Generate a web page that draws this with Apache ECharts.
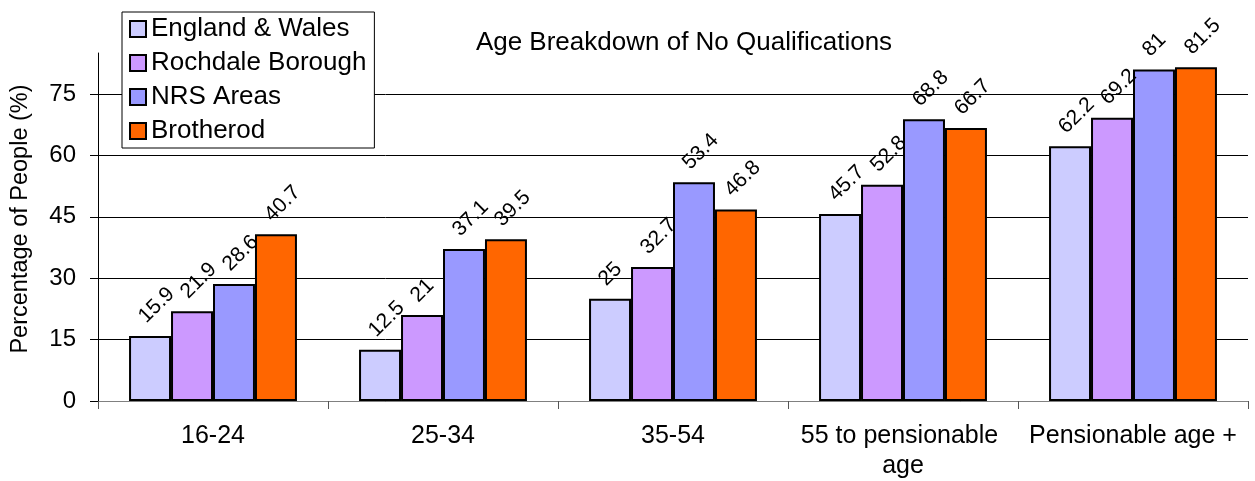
<!DOCTYPE html>
<html>
<head>
<meta charset="utf-8">
<title>Age Breakdown of No Qualifications</title>
<script src="https://cdn.jsdelivr.net/npm/echarts@6/dist/echarts.min.js"></script>
<style>
  html, body { margin: 0; padding: 0; background: #fff; }
  #chart { width: 1255px; height: 481px; }
</style>
</head>
<body>
<div id="chart"></div>
<script>
// data
const categories = ['16-24', '25-34', '35-54', '55 to pensionable age', 'Pensionable age +'];
const seriesNames = ['England & Wales', 'Rochdale Borough', 'NRS Areas', 'Brotherod'];
const englandWales = [15.9, 12.5, 25, 45.7, 62.2];
const rochdale = [21.9, 21, 32.7, 52.8, 69.2];
const nrsAreas = [28.6, 37.1, 53.4, 68.8, 81];
const brotherod = [40.7, 39.5, 46.8, 66.7, 81.5];
const yTicks = [0, 15, 30, 45, 60, 75];

const colors = ['#CCCCFF', '#CC99FF', '#9999FF', '#FF6600'];
const font = '"Liberation Sans", Arial, sans-serif';

// 1. init
const myChart = echarts.init(document.getElementById('chart'));

// 2. build series from the arrays
const values = [englandWales, rochdale, nrsAreas, brotherod];
const series = seriesNames.map((name, i) => ({
    name: name,
    type: 'bar',
    data: values[i],
    barGap: '0%',
    barCategoryGap: '27%',
    itemStyle: { color: colors[i], borderColor: '#000', borderWidth: 2 },
    label: {
        show: true,
        position: 'top',
        distance: 24,
        offset: [-11, 0],
        rotate: 45,
        align: 'left',
        verticalAlign: 'middle',
        color: '#000',
        fontSize: 21,
        fontFamily: font
    }
}));

// 3. options
const option = {
    animation: false,
    textStyle: { fontFamily: font },
    title: {
        text: 'Age Breakdown of No Qualifications',
        left: 684,
        top: 30,
        padding: 0,
        textAlign: 'center',
        textStyle: { fontSize: 26, fontWeight: 'normal', color: '#000', fontFamily: font }
    },
    legend: {
        orient: 'vertical',
        left: 122,
        top: 12,
        padding: [4, 8, 4, 7],
        itemGap: 8,
        itemWidth: 16,
        itemHeight: 16,
        icon: 'rect',
        backgroundColor: '#fff',
        borderColor: '#000',
        borderWidth: 1,
        textStyle: { fontSize: 26, lineHeight: 25, color: '#000', fontFamily: font },
        data: seriesNames
    },
    grid: { left: 98, right: 7, top: 53, bottom: 80, outerBoundsMode: 'none' },
    xAxis: {
        type: 'category',
        data: categories,
        axisLine: { lineStyle: { color: '#808080', width: 1 } },
        axisTick: { show: true, length: 8, lineStyle: { color: '#555' } },
        axisLabel: {
            color: '#000',
            fontSize: 25,
            lineHeight: 30,
            margin: 20,
            width: 225,
            overflow: 'break',
            interval: 0,
            fontFamily: font
        }
    },
    yAxis: {
        type: 'value',
        min: 0,
        max: 85,
        interval: 15,
        name: 'Percentage of People (%)',
        nameLocation: 'middle',
        nameGap: 65,
        nameTextStyle: { fontSize: 23.5, color: '#000', padding: [0, 0, 0, 16], fontFamily: font },
        axisLine: { show: true, lineStyle: { color: '#000', width: 1 } },
        axisTick: { show: true, length: 8, customValues: yTicks, lineStyle: { color: '#000' } },
        axisLabel: {
            customValues: yTicks,
            color: '#000',
            fontSize: 24,
            margin: 22,
            fontFamily: font
        },
        splitLine: {
            show: true,
            lineStyle: { color: ['#000', '#000', '#000', '#000', '#000', '#000', 'rgba(0,0,0,0)'], width: 1 }
        }
    },
    series: series
};

// 4. render
option && myChart.setOption(option);
</script>
</body>
</html>
